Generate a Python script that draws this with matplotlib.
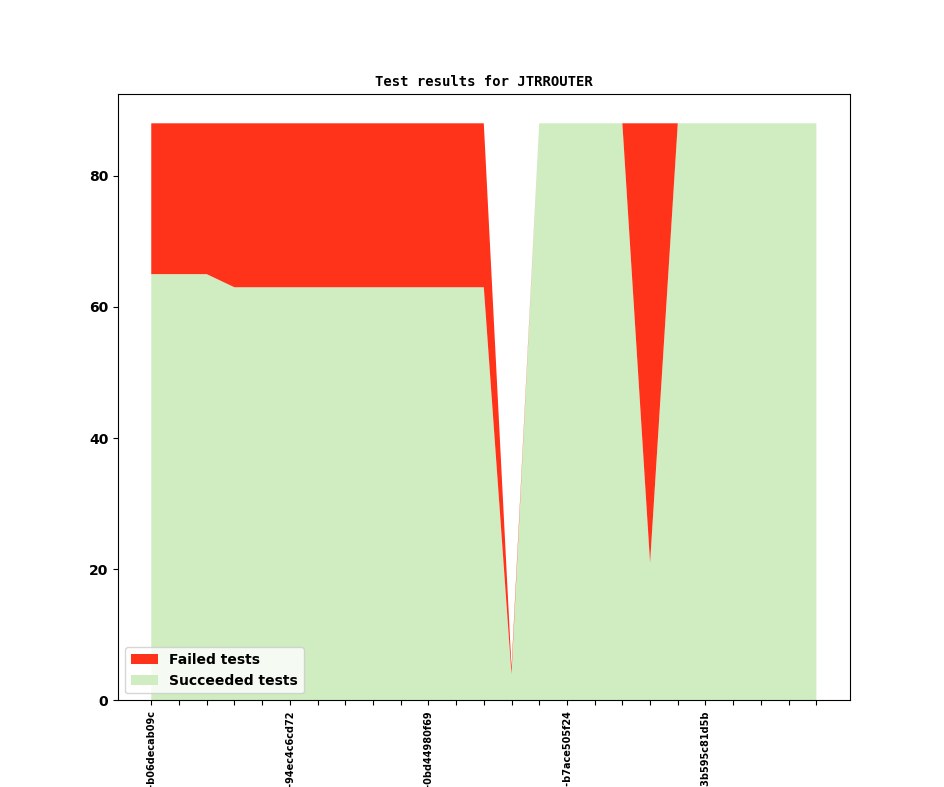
import matplotlib
matplotlib.use('Agg')
import matplotlib.pyplot as plt
import numpy as np

# test runs, oldest first
succeeded = [65, 65, 65, 63, 63, 63, 63, 63, 63, 63, 63, 63, 63,
             4, 88, 88, 88, 88, 21, 88, 88, 88, 88, 88, 88]
failed = [23, 23, 23, 25, 25, 25, 25, 25, 25, 25, 25, 25, 25,
          1, 0, 0, 0, 0, 67, 0, 0, 0, 0, 0, 0]

# only every 5th run gets a label
run_labels = ['build-b06decab09c', '', '', '', '',
              'build-94ec4c6cd72', '', '', '', '',
              'build-0bd44980f69', '', '', '', '',
              'build-b7ace505f24', '', '', '', '',
              'build-3b595c81d5b', '', '', '', '']

x = np.arange(len(succeeded))

fig, ax = plt.subplots(figsize=(9.44, 7.87), dpi=100)

ax.stackplot(x, succeeded, failed,
             labels=['Succeeded tests', 'Failed tests'],
             colors=['#cfedc0', '#ff321a'])

ax.set_title('Test results for JTRROUTER', family='DejaVu Sans Mono',
             fontweight='bold', fontsize=10)

ax.set_xticks(x)
ax.set_xticklabels(run_labels, rotation=90, fontsize=7, fontweight='bold')
for lbl in ax.get_yticklabels():
    lbl.set_fontweight('bold')
    lbl.set_fontsize(10)

# legend with failed on top
handles, labels = ax.get_legend_handles_labels()
ax.legend(handles[::-1], labels[::-1], loc='lower left',
          prop={'weight': 'bold', 'size': 10})

plt.savefig('out.png', dpi=100)
